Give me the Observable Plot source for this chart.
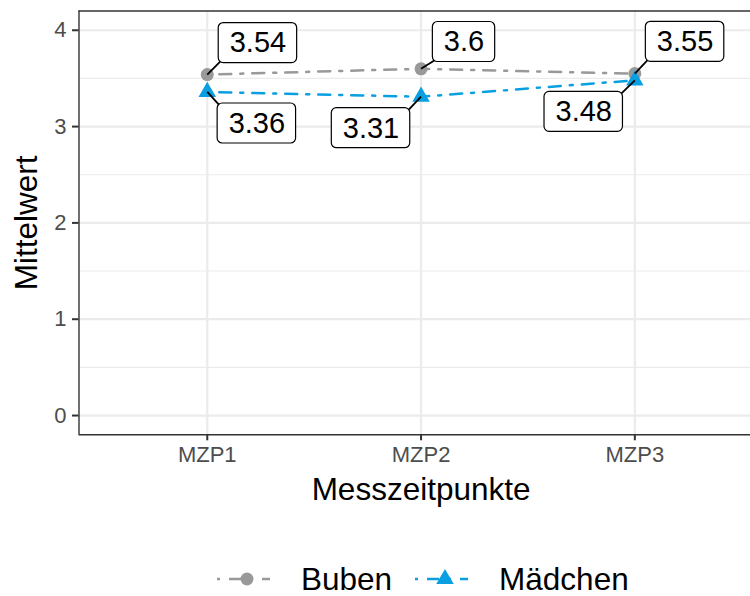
<!DOCTYPE html>
<html><head><meta charset="utf-8">
<script src="https://cdn.jsdelivr.net/npm/d3@7"></script>
<script src="https://cdn.jsdelivr.net/npm/@observablehq/plot@0.6"></script>
<style>
body{margin:0;background:#fff;font-family:"Liberation Sans",Arial,Helvetica,sans-serif;}
#wrap{position:relative;width:750px;height:596px;overflow:hidden;background:#fff}
#chart svg{display:block;font-family:"Liberation Sans",Arial,Helvetica,sans-serif;}
#chart svg [aria-label="y-axis tick"] path,#chart svg [aria-label="x-axis tick"] path{stroke:#333333;}
#legend{position:absolute;left:0;top:559px;height:40px;display:flex;align-items:center;font-size:31.5px;color:#000;}
#legend .key{display:block}
</style></head><body>
<div id="wrap"><div id="chart"></div><div id="legend"></div></div>
<script>
// ---- data ----
const timepoints = ["MZP1", "MZP2", "MZP3"];
const groups = ["Buben", "Mädchen"];
const buben = [3.54, 3.60, 3.55];
const maedchen = [3.36, 3.31, 3.48];
const yTicks = [0, 1, 2, 3, 4];
const yMinor = [0.5, 1.5, 2.5, 3.5];
const colors = ["#999999", "#0A9FE0"];
const symbols = ["circle", "triangle"];
// repelled label placement (as found by ggrepel): x offset in categories, y in data units
const labelNudgeX = {"Buben": [0.237, 0.201, 0.235], "Mädchen": [0.232, -0.234, -0.239]};
const labelY = {"Buben": [3.867, 3.878, 3.880], "Mädchen": [3.032, 2.983, 3.153]};

// ---- layout ----
const W = 750, H = 520;
const xDomain = [-0.6, 2.6], xRange = [78.5, 762.6];
const yDomain = [-0.2, 4.2], yRange = [434.3, 10.5];
const LABEL_FS = 29, PAD_X = 11, BOX_H = 40, RX = 5;
const dash = "3 9 12 9";

const values = {"Buben": buben, "Mädchen": maedchen};
const data = groups.flatMap(g => timepoints.map((t, i) => ({group: g, i, tp: t, value: values[g][i]})));

const xs = Plot.scale({x: {type: "linear", domain: xDomain, range: xRange}});
const ys = Plot.scale({y: {type: "linear", domain: yDomain, range: yRange}});
const ctx = document.createElement("canvas").getContext("2d");
ctx.font = `${LABEL_FS}px "Liberation Sans", Arial`;

const labels = data.map(d => {
  const text = String(d.value);
  const lx = d.i + labelNudgeX[d.group][d.i];
  const ly = labelY[d.group][d.i];
  const bw = ctx.measureText(text).width + 2 * PAD_X;
  const cx = xs.apply(lx), cy = ys.apply(ly);
  const bx1 = cx - bw / 2, bx2 = cx + bw / 2, by1 = cy - BOX_H / 2, by2 = cy + BOX_H / 2;
  const px = xs.apply(d.i), py = ys.apply(d.value);
  let qx = Math.max(bx1, Math.min(bx2, px));
  let qy = Math.max(by1, Math.min(by2, py));
  const cornerX = qx === bx1 || qx === bx2, cornerY = qy === by1 || qy === by2;
  if (cornerX && cornerY) { const k = RX * (1 - Math.SQRT1_2); qx += qx === bx1 ? k : -k; qy += qy === by1 ? k : -k; }
  return {...d, text, lx, ly,
    x1: xs.invert(bx1), x2: xs.invert(bx2), y1: ys.invert(by2), y2: ys.invert(by1),
    sx: xs.invert(qx), sy: ys.invert(qy)};
});

const plot = Plot.plot({
  width: W, height: H,
  marginLeft: xRange[0], marginRight: 0, marginTop: yRange[1], marginBottom: H - yRange[0],
  style: {fontFamily: '"Liberation Sans", Arial, sans-serif', background: "white"},
  x: {type: "linear", domain: xDomain, range: xRange},
  y: {type: "linear", domain: yDomain},
  color: {domain: groups, range: colors},
  symbol: {domain: groups, range: symbols},
  marks: [
    Plot.ruleY(yMinor, {stroke: "#EBEBEB", strokeWidth: 1.1}),
    Plot.ruleY(yTicks, {stroke: "#EBEBEB", strokeWidth: 2.2}),
    Plot.ruleX(timepoints.map((t, i) => i), {stroke: "#EBEBEB", strokeWidth: 2.2}),
    Plot.ruleX([xDomain[0]], {stroke: "#333333", strokeWidth: 1.4}),
    Plot.ruleY(yDomain, {stroke: "#333333", strokeWidth: 1.4}),
    Plot.axisY(yTicks, {tickFormat: d3.format("d"), tickSize: 6.5, tickPadding: 6, fontSize: 22, fill: "#4D4D4D", stroke: "#333333", strokeWidth: 2, label: null}),
    Plot.axisX(timepoints.map((t, i) => i), {tickFormat: i => timepoints[i], tickSize: 6, tickPadding: 6, fontSize: 22, fill: "#4D4D4D", stroke: "#333333", strokeWidth: 2, label: null}),
    Plot.text(["Messzeitpunkte"], {x: (xDomain[0] + xDomain[1]) / 2, frameAnchor: "bottom", dy: 55, fontSize: 31.5, fill: "black", lineAnchor: "middle", textAnchor: "middle"}),
    Plot.text(["Mittelwert"], {y: (yDomain[0] + yDomain[1]) / 2, frameAnchor: "left", dx: -52, rotate: -90, fontSize: 31.5, fill: "black", lineAnchor: "middle", textAnchor: "middle"}),
    Plot.line(data, {x: "i", y: "value", z: "group", stroke: "group", strokeWidth: 2.5, strokeDasharray: dash}),
    Plot.dot(data, {x: "i", y: "value", fill: "group", symbol: "group", r: 6.5, stroke: null}),
    Plot.link(labels, {x1: "i", y1: "value", x2: "sx", y2: "sy", stroke: "black", strokeWidth: 1.8}),
    Plot.rect(labels, {x1: "x1", x2: "x2", y1: "y1", y2: "y2", fill: "white", stroke: "black", strokeWidth: 1.2, rx: RX}),
    Plot.text(labels, {x: "lx", y: "ly", text: "text", fontSize: LABEL_FS, fill: "black", lineAnchor: "middle"})
  ]
});
document.getElementById("chart").append(plot);

// ---- legend ----
const legend = d3.select("#legend").style("left", "215px");
groups.forEach((g, k) => {
  const svg = legend.append("svg").attr("class", "key").attr("width", 56).attr("height", 30)
    .style("margin-right", "30px");
  svg.append("line").attr("x1", 2).attr("x2", 55).attr("y1", 15).attr("y2", 15)
    .attr("stroke", colors[k]).attr("stroke-width", 2.5).attr("stroke-dasharray", dash);
  svg.append("path").attr("transform", "translate(32,15)")
    .attr("d", d3.symbol(k === 0 ? d3.symbolCircle : d3.symbolTriangle, Math.PI * 6.5 * 6.5)())
    .attr("fill", colors[k]);
  legend.append("span").text(g).style("margin-right", k === 0 ? "21px" : "0");
});
</script>
</body></html>
